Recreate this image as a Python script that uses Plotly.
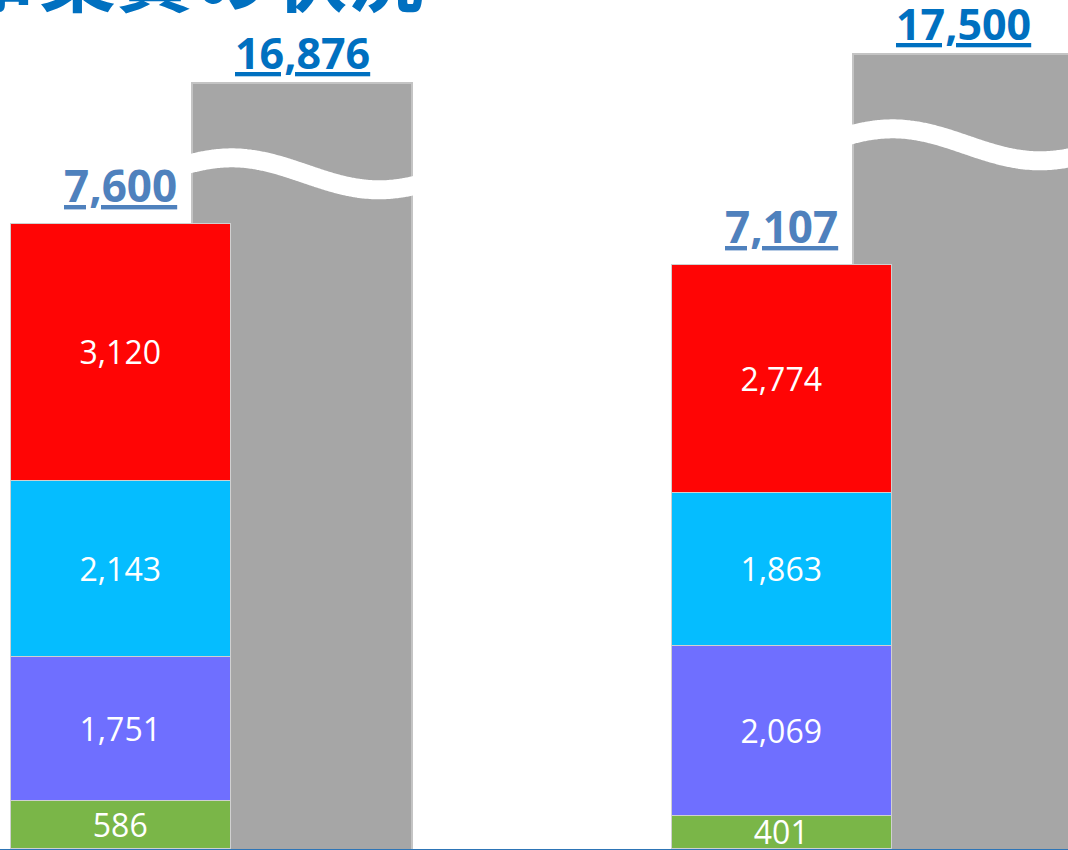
import numpy as np
import plotly.graph_objects as go

# ---- data ----
groups = [0, 1]
segment_names = ["A", "B", "C", "D"]
seg_green = [586, 401]
seg_purple = [1751, 2069]
seg_cyan = [2143, 1863]
seg_red = [3120, 2774]
totals = [7600, 7107]
gray_values = [16876, 17500]
seg_colors = ["#7AB648", "#6F6FFF", "#05BDFF", "#FF0505"]
title_text = "事業費の状況"

OFF = 0.137
W = 0.333
x_stack = [g - OFF for g in groups]
x_gray = [g + OFF for g in groups]

fig = go.Figure()

# gray (broken-axis) bars on primary y
fig.add_trace(go.Bar(
    x=x_gray, y=gray_values, width=W, marker=dict(color="#A6A6A6", line=dict(color="#C4C4C4", width=2)),
    yaxis="y", showlegend=False, hoverinfo="skip"))

# wave break marks
PX = 21.5  # axis units per pixel on gray axis
for xg, v in zip(x_gray, gray_values):
    t = np.linspace(-0.05, 1.05, 120)
    xs = xg - W / 2 + t * W
    center = v - 91 * PX
    ys = center + 16 * PX * np.cos(np.pi * (t - 0.18) / 0.67)
    fig.add_trace(go.Scatter(x=xs, y=ys, mode="lines", line=dict(color="white", width=19, shape="spline"),
                             yaxis="y", showlegend=False, hoverinfo="skip"))

# stacked bars on y2
for name, vals, col in zip(segment_names, [seg_green, seg_purple, seg_cyan, seg_red], seg_colors):
    fig.add_trace(go.Bar(
        x=x_stack, y=vals, width=W, name=name, yaxis="y2",
        marker=dict(color=col, line=dict(color="#D0D0D0", width=1.5)),
        text=[f"{v:,}" for v in vals], textposition="inside", insidetextanchor="middle",
        textangle=0, constraintext="none",
        textfont=dict(color="white", size=32, family="Open Sans"),
        showlegend=False, hoverinfo="skip"))

ann = []
for xs_, t in zip(x_stack, totals):
    ann.append(dict(x=xs_, y=t, xref="x", yref="y2", yanchor="bottom", yshift=7,
                    text=f"<b><span style='text-decoration:underline'>{t:,}</span></b>",
                    showarrow=False, font=dict(color="#4F81BD", size=44, family="Open Sans")))
for xg, v in zip(x_gray, gray_values):
    ann.append(dict(x=xg, y=v, xref="x", yref="y", yanchor="bottom", yshift=-1,
                    text=f"<b><span style='text-decoration:underline'>{v:,}</span></b>",
                    showarrow=False, font=dict(color="#0070C0", size=43, family="Open Sans")))
ann.append(dict(x=426 / 1068, y=1, xref="paper", yref="paper", xanchor="right", yanchor="middle",
                yshift=28, text=f"<b>{title_text}</b>", showarrow=False,
                font=dict(color="#0070C0", size=77, family="Noto Sans CJK JP")))

fig.update_layout(
    width=1068, height=850, margin=dict(l=0, r=0, t=0, b=1),
    paper_bgcolor="white", plot_bgcolor="white",
    barmode="stack", bargap=0,
    xaxis=dict(range=[-0.32, 1.2958], showgrid=False, zeroline=False, showticklabels=False,
               ticks="", showline=True, linecolor="#2E75B6", linewidth=2),
    yaxis=dict(range=[390, 18660], showgrid=False, zeroline=False, showticklabels=False, ticks=""),
    yaxis2=dict(range=[0, 10328], overlaying="y", showgrid=False, zeroline=False,
                showticklabels=False, ticks=""),
    annotations=ann,
)

fig.write_html("out.html", config={"displayModeBar": False},
               post_script="document.body.style.margin='0';document.body.style.overflow='hidden';")
